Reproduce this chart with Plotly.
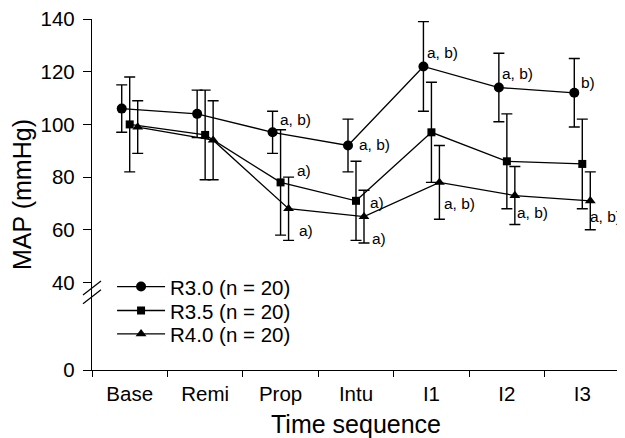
import plotly.graph_objects as go

# ---- data ----
categories = ["Base", "Remi", "Prop", "Intu", "I1", "I2", "I3"]
series_names = ["R3.0 (n = 20)", "R3.5 (n = 20)", "R4.0 (n = 20)"]
r30_mean = [106, 104, 97, 92, 122, 114, 112]
r30_sd = [9, 9, 8, 10, 17, 13, 13]
r35_mean = [100, 96, 78, 71, 97, 86, 85]
r35_sd = [18, 17, 20, 15, 19, 18, 17]
r40_mean = [99, 94, 68, 65, 78, 73, 71]
r40_sd = [10, 15, 12, 10, 14, 11, 11]
y_tick_labels = ["0", "40", "60", "80", "100", "120", "140"]
y_tick_values = [0, 40, 60, 80, 100, 120, 140]

# significance marks: (category index, series index, text)
sig_marks = [
    (2, 0, "a, b)"), (2, 1, "a)"), (2, 2, "a)"),
    (3, 0, "a, b)"), (3, 1, "a)"), (3, 2, "a)"),
    (4, 0, "a, b)"), (4, 2, "a, b)"),
    (5, 0, "a, b)"), (5, 2, "a, b)"),
    (6, 0, "b)"), (6, 2, "a, b)"),
]
# label placement (pixel offsets from the marker)
sig_offsets = [
    (5, 12.7), (14, 12), (8, -21.6),
    (9, 1.4), (12, -1.6), (6, -21.6),
    (2, 14.3), (3, -21),
    (1.5, 14), (0.5, -17),
    (5, 10.6), (-2, -16),
]

# ---- axis break mapping (0..40 compressed) ----
BREAK_LOW_SPAN = 33.2  # display units used for the 0-40 segment


def ymap(v):
    if v >= 40:
        return v
    return 40 - BREAK_LOW_SPAN * (40 - v) / 40.0


means = [r30_mean, r35_mean, r40_mean]
sds = [r30_sd, r35_sd, r40_sd]
symbols = ["circle", "square", "triangle-up"]
sizes = [10, 8, 9.5]
offsets = [-0.106, 0.0, 0.106]
legend_ids = ["legend", "legend2", "legend3"]
legend_rows = [0.2373, 0.169, 0.1026]
FONT = "Liberation Sans, Arial, sans-serif"

fig = go.Figure()
for k in range(3):
    xs = [i + offsets[k] for i in range(len(categories))]
    fig.add_trace(go.Scatter(
        x=xs, y=means[k], name=series_names[k], mode="lines+markers",
        line=dict(color="black", width=1.3),
        marker=dict(symbol=symbols[k], size=sizes[k], color="black"),
        error_y=dict(type="data", array=sds[k], visible=True,
                     color="black", thickness=1.4, width=5.5),
        cliponaxis=False, legend=legend_ids[k],
    ))

for (ci, si, txt), (dx, dy) in zip(sig_marks, sig_offsets):
    fig.add_annotation(
        x=ci + offsets[si], y=means[si][ci], text=txt, showarrow=False,
        xanchor="left", yanchor="middle", xshift=dx, yshift=dy,
        font=dict(family=FONT, size=15.5, color="black"),
    )

# axis break marks
for oy in (4.3, -4.3):
    fig.add_shape(type="line", xref="paper", yref="y",
                  xsizemode="pixel", ysizemode="pixel",
                  xanchor=0, yanchor=ymap(35.5),
                  x0=-9, x1=9, y0=oy - 7, y1=oy + 7,
                  line=dict(color="black", width=1.2))

legend_common = dict(x=0.038, xanchor="left", yanchor="middle",
                     bgcolor="rgba(0,0,0,0)", borderwidth=0,
                     font=dict(family=FONT, size=20.5, color="black"), itemwidth=48)
layout_legends = {}
for lid, ly in zip(legend_ids, legend_rows):
    layout_legends[lid] = dict(legend_common, y=ly)

# the page adds an 8px body margin, so the figure is sized to fit the window
fig.update_layout(
    width=617, height=430,
    margin=dict(l=84, r=5, t=11, b=68),
    plot_bgcolor="white", paper_bgcolor="white",
    font=dict(family=FONT, size=20.5, color="black"),
    showlegend=True,
    **layout_legends,
)
fig.update_xaxes(
    range=[-0.5, 6.5], tickmode="array", automargin=False,
    tickvals=list(range(len(categories))), ticktext=categories,
    ticks="", showline=True, linecolor="black", linewidth=1.3,
    showgrid=False, zeroline=False, ticklabelstandoff=5,
    ticklabeloverflow="allow",
    minor=dict(tickmode="array", tickvals=[i - 0.5 for i in range(len(categories) + 1)],
               ticks="outside", ticklen=6, tickcolor="black", tickwidth=1.3, showgrid=False),
    title=dict(text="Time sequence", standoff=26),
)
fig.update_yaxes(
    range=[ymap(0), 140], tickmode="array", automargin=False,
    tickvals=[ymap(v) for v in y_tick_values], ticktext=y_tick_labels,
    ticks="outside", ticklen=8, tickcolor="black", tickwidth=1.3,
    showline=True, linecolor="black", linewidth=1.3, ticklabelstandoff=4,
    ticklabeloverflow="allow",
    showgrid=False, zeroline=False,
    title=dict(text="MAP (mmHg)", standoff=4),
)

fig.write_html("out.html")
